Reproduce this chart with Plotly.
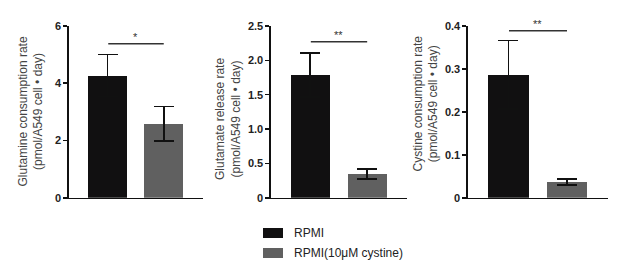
import plotly.graph_objects as go

W, H = 617, 270

categories = ["RPMI", "RPMI(10μM cystine)"]
titles = [
    "Glutamine consumption rate<br>(pmol/A549 cell • day)",
    "Glutamate release rate<br>(pmol/A549 cell • day)",
    "Cystine consumption rate<br>(pmol/A549 cell • day)",
]
means = [[4.27, 2.59], [1.79, 0.346], [0.286, 0.036]]
errors = [[0.73, 0.60], [0.32, 0.07], [0.080, 0.007]]
ymax = [6, 2.5, 0.4]
tickvals = [[0, 2, 4, 6], [0, 0.5, 1.0, 1.5, 2.0, 2.5], [0, 0.1, 0.2, 0.3, 0.4]]
ticktext = [["0", "2", "4", "6"], ["0", "0.5", "1.0", "1.5", "2.0", "2.5"],
            ["0", "0.1", "0.2", "0.3", "0.4"]]
sig_labels = ["*", "**", "**"]
sig_y = [5.38, 2.27, 0.389]
colors = ["#111011", "#606060"]

# pixel layout
x_dom_px = [(69, 203), (271, 407), (468, 608)]
y0_px, ytop_px = 197.7, 26.0
title_x_px = [30.5, 228, 425.5]
title_y_px = [112, 119, 104]

fig = go.Figure()
for p in range(3):
    xa = "x" if p == 0 else f"x{p+1}"
    ya = "y" if p == 0 else f"y{p+1}"
    fig.add_trace(go.Bar(
        x=[0, 1], y=means[p], width=0.69,
        marker=dict(color=colors, line=dict(width=0)),
        error_y=dict(type="data", array=errors[p], visible=True,
                     color="#111111", thickness=1.6, width=10),
        xaxis=xa, yaxis=ya, showlegend=False, hoverinfo="skip",
    ))
    ydom = [(H - y0_px) / H, (H - ytop_px) / H]
    xdom = [x_dom_px[p][0] / W, x_dom_px[p][1] / W]
    kx = "xaxis" if p == 0 else f"xaxis{p+1}"
    ky = "yaxis" if p == 0 else f"yaxis{p+1}"
    fig.layout[kx] = dict(domain=xdom, range=[-0.69, 1.7], showticklabels=False,
                          ticks="", showline=True, linecolor="#111111", linewidth=1.6,
                          showgrid=False, zeroline=False, fixedrange=True, anchor=ya,
                          automargin=False)
    fig.layout[ky] = dict(domain=ydom, range=[0, ymax[p]], tickvals=tickvals[p],
                          ticktext=ticktext[p], ticks="outside", ticklen=4,
                          tickwidth=1.6, tickcolor="#111111",
                          showline=True, linecolor="#111111", linewidth=1.6,
                          showgrid=False, zeroline=False, anchor=xa, automargin=False,
                          fixedrange=True,
                          tickfont=dict(family="Liberation Sans", size=11, color="#222222",
                                        weight="bold"))
    # significance bar
    fig.add_shape(type="line", xref=xa, yref=ya, x0=0.01, x1=1.0,
                  y0=sig_y[p], y1=sig_y[p], line=dict(color="#333333", width=1.6))
    fig.add_annotation(xref=xa, yref=ya, x=0.5, y=sig_y[p], text=sig_labels[p],
                       showarrow=False, yanchor="bottom", yshift=-1,
                       font=dict(family="Liberation Sans", size=11, color="#333333"))
    # y title
    fig.add_annotation(xref="paper", yref="paper", x=title_x_px[p] / W,
                       y=(H - title_y_px[p]) / H,
                       text=titles[p], showarrow=False, textangle=-90,
                       font=dict(family="Liberation Sans", size=12, color="#444444"),
                       xanchor="center", yanchor="middle")

# legend
leg_x0, leg_y = 263, [233, 253]
for i, name in enumerate(categories):
    fig.add_shape(type="rect", xref="paper", yref="paper",
                  x0=leg_x0 / W, x1=(leg_x0 + 20) / W,
                  y0=(H - leg_y[i] - 5) / H, y1=(H - leg_y[i] + 5) / H,
                  fillcolor=colors[i], line=dict(width=0))
    fig.add_annotation(xref="paper", yref="paper", x=(leg_x0 + 29) / W,
                       y=(H - leg_y[i]) / H, text=name, showarrow=False,
                       xanchor="left", yanchor="middle",
                       font=dict(family="Liberation Sans", size=12, color="#222222"))

fig.update_layout(width=W, height=H, margin=dict(l=0, r=0, t=0, b=0, autoexpand=False),
                  paper_bgcolor="white", plot_bgcolor="white", bargap=0,
                  hovermode=False, dragmode=False)
fig.write_html("out.html", config={"staticPlot": True, "displayModeBar": False},
               post_script="document.body.style.margin='0';document.body.style.padding='0';document.body.style.overflow='hidden';")
